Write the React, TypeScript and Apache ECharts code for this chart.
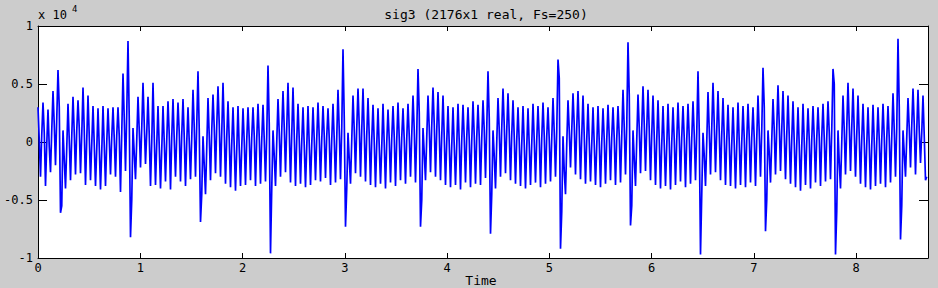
import React, { useEffect, useRef } from "react";
import * as echarts from "echarts";

// Signal vertices (units of 1e4), read per ~20 Hz cycle as [peak, mid, trough, mid]
const lead = [0.30, 0.02, -0.30, 0.06, 0.34, 0.08, -0.38, -0.02, 0.28, -0.04, -0.26, 0.10, 0.44, 0.15, -0.20, 0.20];
const beat0 = [
  0.62, 0.30, -0.61, -0.55, 0.10, -0.15, -0.40, -0.05, 0.33, 0.02, -0.33, 0.05, 0.39, 0.08, -0.28, 0.10,
  0.36, 0.12, -0.27, 0.06, 0.47, 0.10, -0.37, 0.02, 0.40, 0.05, -0.33, -0.02, 0.31, -0.02, -0.38, -0.06,
  0.29, -0.04, -0.41, -0.08, 0.31, -0.03, -0.38, 0.00, 0.29, 0.02, -0.28, 0.04, 0.30, 0.03, -0.30, 0.06,
  0.30, 0.05, -0.43, 0.08, 0.59, 0.20, -0.25, 0.25,
];
const beat1 = [
  0.87, 0.20, -0.82, -0.50, 0.12, -0.10, -0.32, 0.02, 0.39, 0.10, -0.22, 0.12, 0.51, 0.15, -0.19, 0.08,
  0.39, 0.06, -0.38, 0.00, 0.51, 0.04, -0.37, -0.02, 0.31, -0.04, -0.40, -0.06, 0.31, 0.00, -0.34, 0.02,
  0.35, 0.06, -0.41, 0.04, 0.37, 0.02, -0.30, 0.05, 0.34, 0.08, -0.34, 0.06, 0.37, 0.04, -0.38, 0.00,
  0.30, 0.00, -0.32, 0.04, 0.45, 0.12, -0.30, 0.15,
];
const beat2 = [
  0.61, 0.10, -0.69, -0.45, 0.05, -0.20, -0.45, -0.05, 0.38, 0.05, -0.33, 0.10, 0.41, 0.12, -0.27, 0.14,
  0.48, 0.15, -0.30, 0.08, 0.51, 0.10, -0.36, 0.04, 0.35, 0.02, -0.39, -0.02, 0.30, -0.04, -0.42, -0.06,
  0.31, -0.06, -0.38, -0.04, 0.29, 0.00, -0.37, 0.02, 0.30, 0.03, -0.33, 0.04, 0.30, 0.05, -0.38, 0.03,
  0.33, 0.04, -0.36, 0.02, 0.32, 0.02, -0.34, 0.06,
];
const beat3 = [
  0.66, 0.15, -0.96, -0.40, 0.10, -0.12, -0.38, 0.00, 0.37, 0.08, -0.30, 0.10, 0.44, 0.12, -0.26, 0.12,
  0.51, 0.10, -0.35, 0.06, 0.47, 0.06, -0.38, 0.02, 0.33, 0.02, -0.36, 0.00, 0.30, -0.03, -0.39, -0.04,
  0.31, -0.02, -0.37, -0.02, 0.30, 0.02, -0.33, 0.03, 0.34, 0.04, -0.34, 0.02, 0.31, 0.05, -0.31, 0.05,
  0.29, 0.03, -0.37, 0.02, 0.33, 0.02, -0.35, 0.04, 0.45, 0.10, -0.32, 0.12,
];
const beat4 = [
  0.80, 0.20, -0.73, -0.40, 0.08, -0.15, -0.36, 0.02, 0.40, 0.10, -0.27, 0.12, 0.46, 0.14, -0.30, 0.10,
  0.46, 0.08, -0.34, 0.06, 0.38, 0.05, -0.37, 0.02, 0.32, 0.00, -0.39, -0.02, 0.29, -0.04, -0.36, -0.04,
  0.33, -0.02, -0.40, 0.00, 0.28, 0.02, -0.35, 0.03, 0.31, 0.04, -0.38, 0.02, 0.34, 0.03, -0.33, 0.04,
  0.29, 0.02, -0.36, 0.03, 0.33, 0.05, -0.30, 0.06, 0.40, 0.10, -0.35, 0.08,
];
const beat5 = [
  0.63, 0.25, -0.73, -0.50, 0.12, -0.10, -0.33, 0.04, 0.40, 0.12, -0.26, 0.14, 0.47, 0.15, -0.30, 0.10,
  0.43, 0.08, -0.33, 0.05, 0.40, 0.04, -0.37, 0.00, 0.31, -0.02, -0.39, -0.03, 0.30, -0.03, -0.37, -0.02,
  0.33, 0.00, -0.41, 0.02, 0.32, 0.03, -0.35, 0.04, 0.30, 0.02, -0.39, 0.01, 0.35, 0.05, -0.36, 0.04,
  0.32, 0.04, -0.37, 0.03, 0.36, 0.10, -0.31, 0.12,
];
const beat6 = [
  0.61, 0.20, -0.79, -0.45, 0.10, -0.12, -0.40, 0.00, 0.38, 0.10, -0.30, 0.12, 0.46, 0.14, -0.27, 0.10,
  0.42, 0.08, -0.33, 0.06, 0.36, 0.04, -0.36, 0.02, 0.30, 0.00, -0.38, -0.02, 0.31, -0.02, -0.40, -0.04,
  0.29, -0.03, -0.37, -0.01, 0.33, 0.01, -0.35, 0.02, 0.31, 0.03, -0.39, 0.03, 0.34, 0.05, -0.36, 0.05,
  0.30, 0.02, -0.34, 0.03, 0.38, 0.08, -0.30, 0.10,
];
const beat7 = [
  0.71, 0.55, -0.92, -0.60, 0.05, -0.25, -0.45, -0.02, 0.36, 0.10, -0.22, 0.10, 0.42, 0.14, -0.28, 0.12,
  0.44, 0.10, -0.32, 0.05, 0.40, 0.05, -0.36, 0.02, 0.33, 0.00, -0.34, -0.02, 0.30, -0.02, -0.37, -0.03,
  0.31, 0.00, -0.39, 0.00, 0.29, 0.02, -0.36, 0.02, 0.32, 0.04, -0.33, 0.04, 0.30, 0.03, -0.37, 0.03,
  0.31, 0.05, -0.35, 0.05, 0.45, 0.12, -0.28, 0.14,
];
const beat8 = [
  0.86, 0.40, -0.72, -0.55, 0.10, -0.15, -0.38, 0.02, 0.41, 0.12, -0.27, 0.12, 0.48, 0.15, -0.25, 0.12,
  0.45, 0.10, -0.33, 0.06, 0.40, 0.05, -0.37, 0.02, 0.36, 0.02, -0.40, -0.02, 0.31, -0.02, -0.38, -0.03,
  0.33, 0.00, -0.41, 0.00, 0.30, 0.02, -0.37, 0.02, 0.34, 0.04, -0.34, 0.04, 0.31, 0.03, -0.39, 0.02,
  0.33, 0.04, -0.36, 0.03, 0.35, 0.06, -0.33, 0.08,
];
const beat9 = [
  0.61, 0.10, -0.97, -0.45, 0.08, -0.12, -0.38, 0.00, 0.43, 0.10, -0.28, 0.12, 0.51, 0.15, -0.26, 0.10,
  0.44, 0.08, -0.33, 0.06, 0.38, 0.04, -0.37, 0.02, 0.32, 0.00, -0.38, -0.02, 0.30, -0.02, -0.40, -0.03,
  0.34, 0.00, -0.37, 0.00, 0.31, 0.03, -0.39, 0.02, 0.33, 0.04, -0.35, 0.04, 0.30, 0.03, -0.38, 0.03,
  0.40, 0.08, -0.30, 0.10,
];
const beat10 = [
  0.64, 0.30, -0.77, -0.50, 0.10, -0.10, -0.35, 0.02, 0.37, 0.10, -0.28, 0.12, 0.49, 0.15, -0.25, 0.10,
  0.44, 0.08, -0.32, 0.06, 0.40, 0.05, -0.36, 0.02, 0.35, 0.00, -0.39, -0.02, 0.30, -0.03, -0.42, -0.04,
  0.33, 0.00, -0.37, 0.00, 0.29, 0.02, -0.40, 0.02, 0.31, 0.03, -0.35, 0.03, 0.30, 0.04, -0.38, 0.04,
  0.33, 0.03, -0.34, 0.04, 0.35, 0.08, -0.32, 0.10,
];
const beat11 = [
  0.63, 0.50, -0.97, -0.60, 0.10, -0.18, -0.40, 0.00, 0.40, 0.10, -0.28, 0.12, 0.51, 0.15, -0.25, 0.12,
  0.46, 0.10, -0.30, 0.06, 0.40, 0.05, -0.36, 0.02, 0.33, 0.00, -0.39, -0.02, 0.30, -0.02, -0.41, -0.03,
  0.32, 0.00, -0.38, 0.00, 0.30, 0.02, -0.36, 0.02, 0.33, 0.04, -0.39, 0.03, 0.31, 0.03, -0.35, 0.04,
  0.42, 0.10, -0.30, 0.12,
];
const beat12 = [
  0.89, 0.30, -0.84, -0.55, 0.10, -0.10, -0.30, 0.04, 0.38, 0.12, -0.22, 0.14, 0.46, 0.15, -0.28, 0.10,
  0.45, 0.10, -0.18, 0.08, 0.40, 0.05, -0.33, -0.30,
];

const SAMPLES = 2176;
const FS = 250;
const xTicks = [0, 1, 2, 3, 4, 5, 6, 7, 8];
const yTicks = [-1, -0.5, 0, 0.5, 1];
const TITLE = "sig3 (2176x1 real, Fs=250)";
const X_NAME = "Time";

export default function App() {
  const ref = useRef<HTMLDivElement>(null);
  useEffect(() => {
    if (!ref.current) return;
    const chart = echarts.init(ref.current, undefined, { renderer: "svg" });
    const signal = [
      ...lead, ...beat0, ...beat1, ...beat2, ...beat3, ...beat4, ...beat5,
      ...beat6, ...beat7, ...beat8, ...beat9, ...beat10, ...beat11, ...beat12,
    ];
    const tEnd = SAMPLES / FS;
    const dt = tEnd / signal.length;
    const data = signal.map((v, i) => [i * dt, v]);
    const font = "'DejaVu Sans Mono', monospace";
    const tickFmt = (v: number) => String(Math.round(v * 10) / 10);
    chart.setOption({
      animation: false,
      backgroundColor: "#cccccc",
      grid: {
        left: 38,
        right: 10,
        top: 26,
        bottom: 30,
        show: true,
        backgroundColor: "#ffffff",
        borderWidth: 0,
        containLabel: false,
        outerBoundsMode: "none",
      },
      title: {
        text: TITLE,
        left: 481,
        top: 3,
        textAlign: "center",
        textStyle: { fontFamily: font, fontSize: 13, fontWeight: "normal", color: "#000" },
      },
      graphic: [
        {
          type: "text",
          left: 38,
          top: 9,
          style: { text: "x 10", fontFamily: font, fontSize: 12, fill: "#000" },
        },
        {
          type: "text",
          left: 72,
          top: 4,
          style: { text: "4", fontFamily: font, fontSize: 9, fill: "#000" },
        },
        {
          type: "text",
          x: 481,
          y: 274,
          style: { text: X_NAME, fontFamily: font, fontSize: 13, fill: "#000", align: "center", verticalAlign: "top" },
        },
      ],
      xAxis: [
        {
          type: "value",
          min: 0,
          max: tEnd,
          interval: 1,
          position: "bottom",
          axisLine: { show: true, onZero: false, lineStyle: { color: "#000", width: 1 } },
          axisTick: { show: true, inside: true, length: 5, lineStyle: { color: "#000" }, customValues: xTicks },
          axisLabel: {
            color: "#000",
            fontFamily: font,
            fontSize: 12,
            margin: 4,
            customValues: xTicks,
          },
          splitLine: { show: false },
        },
        {
          type: "value",
          min: 0,
          max: tEnd,
          interval: 1,
          position: "top",
          axisLine: { show: true, onZero: false, lineStyle: { color: "#000", width: 1 } },
          axisTick: { show: true, inside: true, length: 5, lineStyle: { color: "#000" }, customValues: xTicks },
          axisLabel: { show: false },
          splitLine: { show: false },
        },
      ],
      yAxis: [
        {
          type: "value",
          min: -1,
          max: 1,
          interval: 0.5,
          position: "left",
          axisLine: { show: true, onZero: false, lineStyle: { color: "#000", width: 1 } },
          axisTick: { show: true, inside: true, length: 9, lineStyle: { color: "#000" }, customValues: yTicks },
          axisLabel: {
            color: "#000",
            fontFamily: font,
            fontSize: 12,
            margin: 5,
            formatter: tickFmt,
            customValues: yTicks,
          },
          splitLine: { show: false },
        },
        {
          type: "value",
          min: -1,
          max: 1,
          interval: 0.5,
          position: "right",
          axisLine: { show: true, onZero: false, lineStyle: { color: "#000", width: 1 } },
          axisTick: { show: true, inside: true, length: 9, lineStyle: { color: "#000" }, customValues: yTicks },
          axisLabel: { show: false },
          splitLine: { show: false },
        },
      ],
      series: [
        {
          type: "line",
          data,
          xAxisIndex: 0,
          yAxisIndex: 0,
          showSymbol: false,
          symbol: "none",
          clip: true,
          lineStyle: { color: "#0000ff", width: 1.7 },
        },
      ],
    });
    return () => chart.dispose();
  }, []);
  return (
    <div
      ref={ref}
      style={{ position: "fixed", left: 0, top: 0, width: 938, height: 288 }}
    />
  );
}
